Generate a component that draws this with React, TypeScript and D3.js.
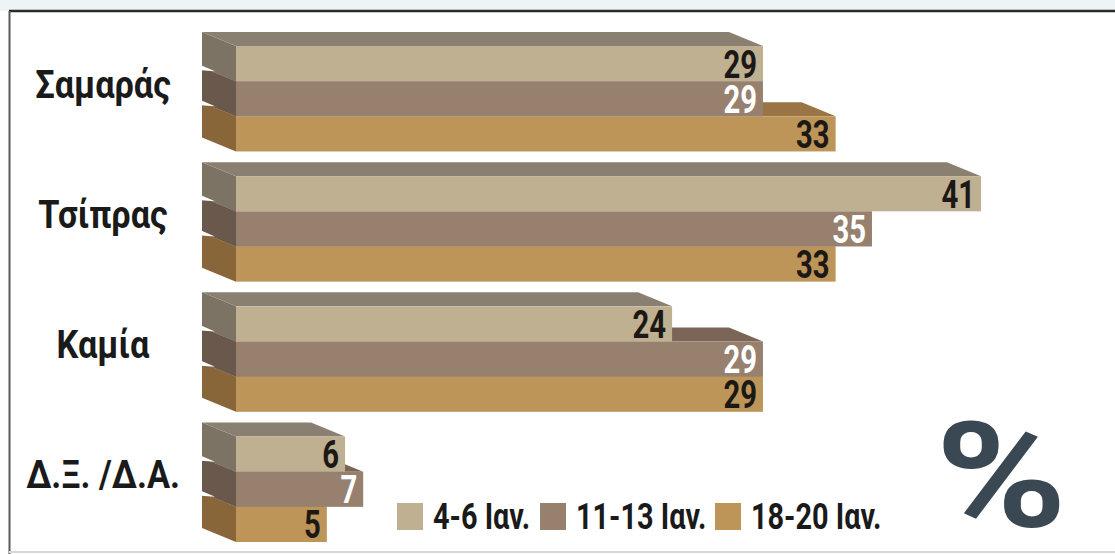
import React from "react";
import * as d3 from "d3";

const categories = ["Σαμαράς", "Τσίπρας", "Καμία", "Δ.Ξ. /Δ.Α."];
const seriesNames = ["4-6 Ιαν.", "11-13 Ιαν.", "18-20 Ιαν."];
const jan4to6 = [29, 41, 24, 6];
const jan11to13 = [29, 35, 29, 7];
const jan18to20 = [33, 33, 29, 5];

const seriesValues = [jan4to6, jan11to13, jan18to20];
const frontColors = ["#BEB091", "#98806F", "#BE9559"];
const topColors = ["#8A8071", "#7A6557", "#9A7444"];
const sideColors = ["#7D7364", "#6A584D", "#88663A"];
const labelColors = ["#1c1815", "#ffffff", "#1c1815"];

const W = 1115;
const H = 554;
const DX = -34;
const DY = -14;
const FONT = "Roboto, 'DejaVu Sans', sans-serif";

export default function App() {
  const y = d3.scaleBand<string>().domain(categories).range([46, 542]).paddingInner(0.19).paddingOuter(0);
  const ySeries = d3.scaleBand<number>().domain([0, 1, 2]).range([0, y.bandwidth()]).padding(0);
  const x = d3.scaleLinear().domain([0, 41]).range([236, 981]);
  const bh = ySeries.bandwidth();

  const groups = categories.map((cat, ci) => {
    const gy = y(cat) as number;
    const bars = [2, 1, 0].map((si) => {
      const v = seriesValues[si][ci];
      const x0 = x(0);
      const x1 = x(v);
      const y0 = gy + (ySeries(si) as number);
      const y1 = y0 + bh;
      const top = [
        [x0, y0],
        [x1, y0],
        [x1 + DX, y0 + DY],
        [x0 + DX, y0 + DY],
      ];
      const side = [
        [x0, y0],
        [x0, y1],
        [x0 + DX, y1 + DY],
        [x0 + DX, y0 + DY],
      ];
      const pts = (p: number[][]) => p.map((q) => q.join(",")).join(" ");
      return (
        <g key={si}>
          <polygon points={pts(side)} fill={sideColors[si]} />
          <polygon points={pts(top)} fill={topColors[si]} />
          <rect x={x0} y={y0} width={x1 - x0} height={bh} fill={frontColors[si]} />
          <g transform={`translate(${x1 - 6},${y0 + bh / 2 + 14}) scale(0.77,1)`}>
            <text x={0} y={0} textAnchor="end" fontFamily={FONT} fontWeight={700} fontSize={38} fill={labelColors[si]}>
              {v}
            </text>
          </g>
        </g>
      );
    });
    const notches = [1, 2].map((si) => {
      const yb = gy + (ySeries(si) as number) + DY;
      const bx = x(0) + DX;
      return (
        <polygon
          key={`n${si}`}
          points={`${bx - 1},${yb - 2} ${bx + 13},${yb + 4} ${bx - 1},${yb + 3}`}
          fill="#ffffff"
        />
      );
    });
    const cy = gy + y.bandwidth() / 2;
    return (
      <g key={cat}>
        {bars}
        {notches}
        <g transform={`translate(103,${cy - 1}) scale(0.88,1)`}>
          <text x={0} y={0} textAnchor="middle" fontFamily={FONT} fontWeight={700} fontSize={39} fill="#1a1a1a">
            {cat}
          </text>
        </g>
      </g>
    );
  });

  const legendX = [397, 540, 715];
  const legend = seriesNames.map((name, i) => (
    <g key={name}>
      <rect x={legendX[i]} y={503} width={26} height={27} fill={frontColors[i]} />
      <g transform={`translate(${legendX[i] + 36},${529}) scale(0.78,1)`}>
        <text x={0} y={0} fontFamily={FONT} fontWeight={700} fontSize={37} fill="#1a1a1a">
          {name}
        </text>
      </g>
    </g>
  ));

  return (
    <svg
      width={W}
      height={H}
      viewBox={`0 0 ${W} ${H}`}
      style={{ position: "absolute", left: 0, top: 0, background: "#ffffff" }}
    >
      <rect x={0} y={0} width={W} height={11} fill="#EEF3F6" />
      <line x1={9} x2={W} y1={11} y2={11} stroke="#2b2b2b" strokeWidth={2.5} />
      <line x1={9.5} x2={9.5} y1={11} y2={H} stroke="#5a5a5a" strokeWidth={2} />
      <line x1={9} x2={W} y1={552} y2={552} stroke="#d8d8d8" strokeWidth={2} />
      {groups}
      {legend}
      <g transform="translate(1001,527) scale(1.22,1)">
        <text x={0} y={0} textAnchor="middle" fontFamily={FONT} fontWeight={700} fontSize={146} fill="#394852">
          %
        </text>
      </g>
    </svg>
  );
}
